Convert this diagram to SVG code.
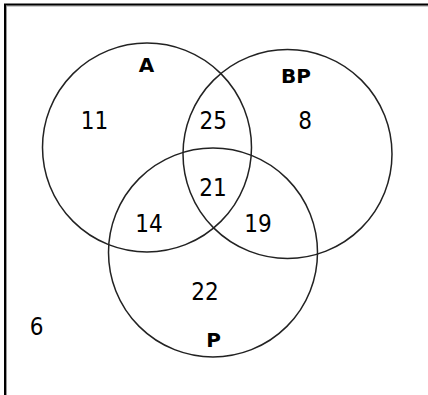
<svg xmlns="http://www.w3.org/2000/svg" width="428" height="395" viewBox="0 0 428 395">
  <style>
    .set { fill: none; stroke: #222; stroke-width: 1.5; }
    .num { font-family: "Liberation Sans Narrow", "DejaVu Sans Condensed", "Liberation Sans", sans-serif; font-size: 24px; fill: #000; text-anchor: middle; }
    .lbl { font-family: "DejaVu Sans", "Liberation Sans", sans-serif; font-size: 20px; font-weight: bold; fill: #000; text-anchor: middle; }
    .frame { stroke: #000; stroke-width: 2; fill: none; }
    .frame2 { stroke: #999; stroke-width: 1; fill: none; }
  </style>
  <rect x="0" y="0" width="428" height="395" fill="#fff"/>
  <g id="frame">
    <path class="frame2" d="M6.5,395 V6 H428"/>
    <path class="frame" d="M5,395 V4.5 H428"/>
  </g>
  <g id="set-A">
    <circle class="set" cx="147" cy="147.5" r="104.5"/>
    <text class="lbl" x="146.5" y="72">A</text>
  </g>
  <g id="set-BP">
    <circle class="set" cx="287.5" cy="154" r="104.5"/>
    <text class="lbl" x="296" y="83">BP</text>
  </g>
  <g id="set-P">
    <circle class="set" cx="213" cy="252.5" r="104.5"/>
    <text class="lbl" x="213.5" y="347">P</text>
  </g>
  <g id="counts">
    <text class="num" x="94.5" y="129">11</text>
    <text class="num" x="213.3" y="129">25</text>
    <text class="num" x="305" y="129">8</text>
    <text class="num" x="213" y="196">21</text>
    <text class="num" x="149" y="231.5">14</text>
    <text class="num" x="258" y="232">19</text>
    <text class="num" x="205" y="300">22</text>
    <text class="num" x="36.7" y="335">6</text>
  </g>
</svg>
